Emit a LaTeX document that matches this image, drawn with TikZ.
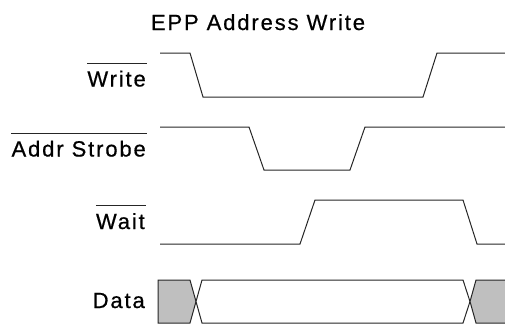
\documentclass[tikz,border=0pt]{standalone}
\usepackage{fontspec}
\setmainfont{Liberation Sans}[LetterSpace=8.5,FakeBold=0.6]
\begin{document}
\begin{tikzpicture}[x=1pt,y=-1pt,
  lbl/.style={anchor=base east,inner sep=0pt,font=\fontsize{22}{26}\selectfont},
  wave/.style={draw=black!85,line width=1pt,line join=miter},
  bar/.style={draw=black!85,line width=1pt},
  busgray/.style={fill=black!25,draw=black!85,line width=1pt},
  buswhite/.style={fill=white,draw=black!85,line width=1pt}]
\useasboundingbox (0,0) rectangle (505,325);
% title
\node[anchor=base,inner sep=0pt,font=\fontsize{22}{26}\selectfont] (title) at (258,30) {EPP Address Write};
% labels
\node[lbl] (lwrite) at (146,86.5) {Write};
\node[lbl] (laddr) at (146,156.5) {Addr Strobe};
\node[lbl] (lwait) at (145,229) {Wait};
\node[lbl] (ldata) at (145,308) {Data};
% overlines
\draw[bar] ([yshift=7pt]lwrite.north west) -- ([xshift=1pt,yshift=7pt]lwrite.north east);
\draw[bar] ([yshift=6.5pt]laddr.north west) -- ([xshift=1pt,yshift=6.5pt]laddr.north east);
\draw[bar] ([yshift=7pt]lwait.north west) -- ([xshift=1pt,yshift=7pt]lwait.north east);
% waveforms
\draw[wave] (160,53) -- (190,53) -- (203,97) -- (423,97) -- (437,53) -- (505,53);
\draw[wave] (160,127) -- (249,127) -- (264,170) -- (350,170) -- (365,127) -- (505,127);
\draw[wave] (160,244) -- (300,244) -- (315,200) -- (463,200) -- (477,244) -- (505,244);
% data bus
\draw[busgray] (158,280) -- (190,280) -- (196,301.5) -- (190,323) -- (158,323) -- cycle;
\draw[buswhite] (202,280) -- (463,280) -- (470,301.5) -- (463,323) -- (202,323) -- (196,301.5) -- cycle;
\fill[black!25] (505,280) -- (476,280) -- (470,301.5) -- (476,323) -- (505,323) -- cycle;
\draw[bar] (505,280) -- (476,280) -- (470,301.5) -- (476,323) -- (505,323);
\end{tikzpicture}
\end{document}
